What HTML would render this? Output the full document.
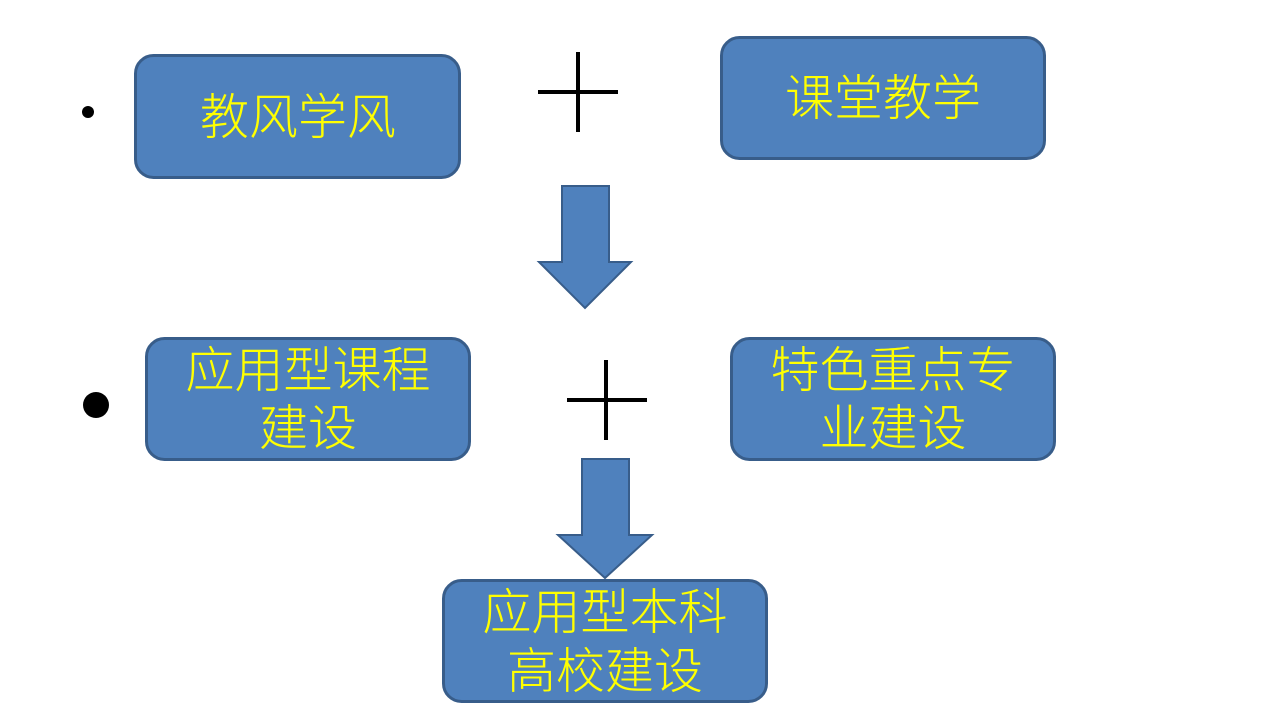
<!DOCTYPE html>
<html><head><meta charset="utf-8"><style>
html,body{margin:0;padding:0;background:#fff;}
svg{display:block;}
text{font-family:"Liberation Sans","Noto Sans CJK SC",sans-serif;fill:#ffff00;font-size:49px;font-weight:300;text-anchor:middle;}
</style></head><body>
<svg width="1282" height="717" viewBox="0 0 1282 717">
<g fill="#4f81bd" stroke="#385d8a" stroke-width="3">
<rect x="135.5" y="55.5" width="324" height="122" rx="18"/>
<rect x="721.5" y="37.5" width="323" height="121" rx="18"/>
<rect x="146.5" y="338.5" width="323" height="121" rx="18"/>
<rect x="731.5" y="338.5" width="323" height="121" rx="18"/>
<rect x="443.5" y="580.5" width="323" height="121" rx="18"/>
<path d="M562 186 H609 V262 H631 L585 308 L539 262 H562 Z" stroke-width="2"/>
<path d="M582 459 H629 V535 H652 L605 578 L558 535 H582 Z" stroke-width="2"/>
</g>
<g stroke="#000" stroke-width="4">
<line x1="538" y1="92" x2="618" y2="92"/><line x1="578" y1="52" x2="578" y2="132"/>
<line x1="567" y1="400" x2="647" y2="400"/><line x1="606" y1="360" x2="606" y2="440"/>
</g>
<circle cx="88" cy="112" r="6" fill="#000"/>
<circle cx="96" cy="405" r="13" fill="#000"/>
<text x="298" y="134">教风学风</text>
<text x="883" y="115">课堂教学</text>
<text x="308" y="387">应用型课程</text>
<text x="308" y="445">建设</text>
<text x="893" y="387">特色重点专</text>
<text x="893" y="445">业建设</text>
<text x="605" y="629">应用型本科</text>
<text x="605" y="688">高校建设</text>
</svg>
</body></html>
